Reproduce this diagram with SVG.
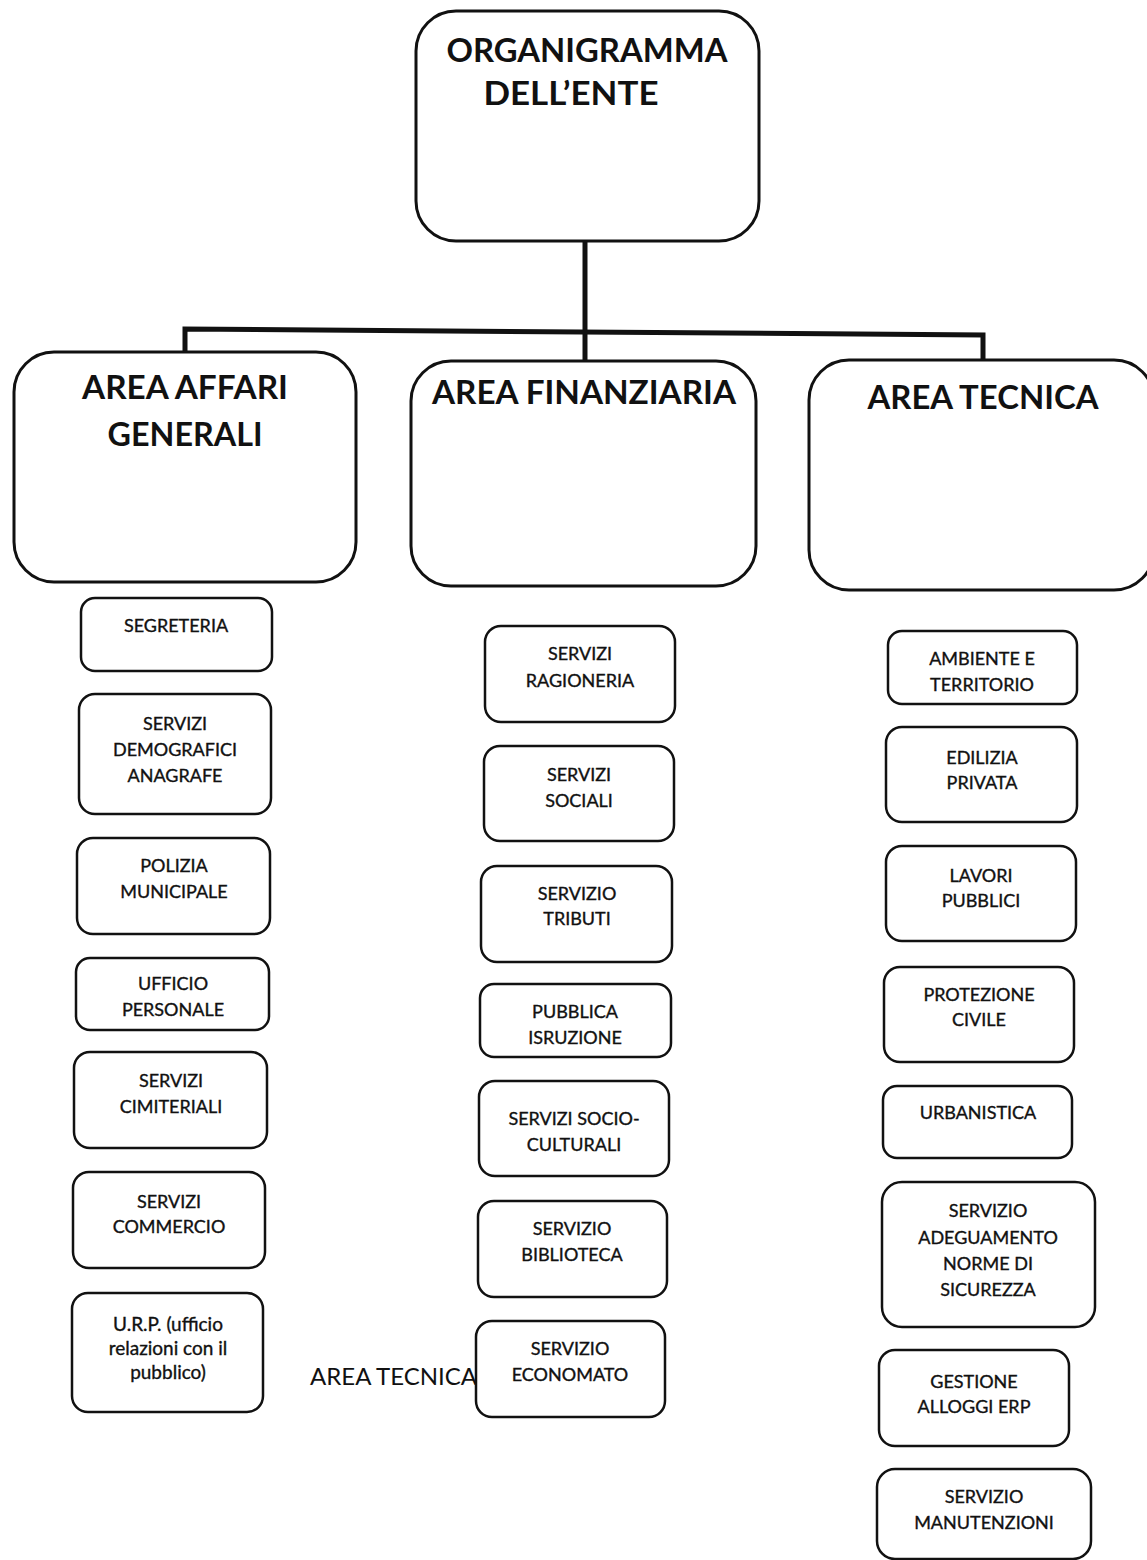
<svg xmlns="http://www.w3.org/2000/svg" width="1147" height="1560" viewBox="0 0 1147 1560">
<style>
.big{fill:#fff;stroke:#111;stroke-width:3}
.box{fill:#fff;stroke:#111;stroke-width:2.5}
.t{font-family:Lato,"Open Sans","Liberation Sans",sans-serif;text-anchor:middle;fill:#111}
.h{font-size:32px;font-weight:bold}
.s{font-size:18px;stroke:#111;stroke-width:0.35}
.u{font-size:19px}
.plain{font-family:Lato,"Open Sans","Liberation Sans",sans-serif;font-size:24px;fill:#111}
.conn{fill:none;stroke:#111;stroke-width:5}
</style>
<rect width="1147" height="1560" fill="#fff"/>
<g id="connectors">
<path class="conn" d="M585 241 V362"/>
<path class="conn" d="M185 353 V329 L983 335 V361"/>
</g>
<g id="ente">
<rect class="big" x="416" y="11" width="343" height="230" rx="40"/>
<text class="t h" x="587" y="62" textLength="281" lengthAdjust="spacingAndGlyphs">ORGANIGRAMMA</text>
<text class="t h" x="571" y="105" textLength="175" lengthAdjust="spacingAndGlyphs">DELL’ENTE</text>
</g>
<g id="area-affari-generali">
<rect class="big" x="14" y="352" width="342" height="230" rx="40"/>
<text class="t h" x="185" y="399" textLength="206" lengthAdjust="spacingAndGlyphs">AREA AFFARI</text>
<text class="t h" x="185" y="446" textLength="155" lengthAdjust="spacingAndGlyphs">GENERALI</text>
</g>
<g id="area-finanziaria">
<rect class="big" x="411" y="361" width="345" height="225" rx="40"/>
<text class="t h" x="584" y="404" textLength="304" lengthAdjust="spacingAndGlyphs">AREA FINANZIARIA</text>
</g>
<g id="area-tecnica">
<rect class="big" x="809" y="360" width="345" height="230" rx="40"/>
<text class="t h" x="983" y="409" textLength="231" lengthAdjust="spacingAndGlyphs">AREA TECNICA</text>
</g>
<text class="plain" x="310" y="1385">AREA TECNICA</text>

<g id="segreteria"><rect class="box" x="81" y="598" width="191" height="73" rx="14"/><text class="t s" x="176" y="632">SEGRETERIA</text></g>
<g id="servizi-demografici"><rect class="box" x="79" y="694" width="192" height="120" rx="16"/><text class="t s" x="175" y="730">SERVIZI</text><text class="t s" x="175" y="756">DEMOGRAFICI</text><text class="t s" x="175" y="782">ANAGRAFE</text></g>
<g id="polizia-municipale"><rect class="box" x="77" y="838" width="193" height="96" rx="16"/><text class="t s" x="174" y="872">POLIZIA</text><text class="t s" x="174" y="898">MUNICIPALE</text></g>
<g id="ufficio-personale"><rect class="box" x="76" y="958" width="193" height="72" rx="14"/><text class="t s" x="173" y="990">UFFICIO</text><text class="t s" x="173" y="1016">PERSONALE</text></g>
<g id="servizi-cimiteriali"><rect class="box" x="74" y="1052" width="193" height="96" rx="16"/><text class="t s" x="171" y="1087">SERVIZI</text><text class="t s" x="171" y="1113">CIMITERIALI</text></g>
<g id="servizi-commercio"><rect class="box" x="73" y="1172" width="192" height="96" rx="16"/><text class="t s" x="169" y="1208">SERVIZI</text><text class="t s" x="169" y="1233">COMMERCIO</text></g>
<g id="urp"><rect class="box" x="72" y="1293" width="191" height="119" rx="16"/><text class="t s u" x="168" y="1331">U.R.P. (ufficio</text><text class="t s u" x="168" y="1355">relazioni con il</text><text class="t s u" x="168" y="1379">pubblico)</text></g>

<g id="servizi-ragioneria"><rect class="box" x="485" y="626" width="190" height="96" rx="16"/><text class="t s" x="580" y="660">SERVIZI</text><text class="t s" x="580" y="687">RAGIONERIA</text></g>
<g id="servizi-sociali"><rect class="box" x="484" y="746" width="190" height="95" rx="16"/><text class="t s" x="579" y="781">SERVIZI</text><text class="t s" x="579" y="807">SOCIALI</text></g>
<g id="servizio-tributi"><rect class="box" x="481" y="866" width="191" height="96" rx="16"/><text class="t s" x="577" y="900">SERVIZIO</text><text class="t s" x="577" y="925">TRIBUTI</text></g>
<g id="pubblica-istruzione"><rect class="box" x="480" y="984" width="191" height="73" rx="14"/><text class="t s" x="575" y="1018">PUBBLICA</text><text class="t s" x="575" y="1044">ISRUZIONE</text></g>
<g id="servizi-socio-culturali"><rect class="box" x="479" y="1081" width="190" height="95" rx="16"/><text class="t s" x="574" y="1125">SERVIZI SOCIO-</text><text class="t s" x="574" y="1151">CULTURALI</text></g>
<g id="servizio-biblioteca"><rect class="box" x="478" y="1201" width="189" height="96" rx="16"/><text class="t s" x="572" y="1235">SERVIZIO</text><text class="t s" x="572" y="1261">BIBLIOTECA</text></g>
<g id="servizio-economato"><rect class="box" x="476" y="1321" width="189" height="96" rx="16"/><text class="t s" x="570" y="1355">SERVIZIO</text><text class="t s" x="570" y="1381">ECONOMATO</text></g>

<g id="ambiente-territorio"><rect class="box" x="888" y="631" width="189" height="73" rx="14"/><text class="t s" x="982" y="665">AMBIENTE E</text><text class="t s" x="982" y="691">TERRITORIO</text></g>
<g id="edilizia-privata"><rect class="box" x="886" y="727" width="191" height="95" rx="16"/><text class="t s" x="982" y="764">EDILIZIA</text><text class="t s" x="982" y="789">PRIVATA</text></g>
<g id="lavori-pubblici"><rect class="box" x="886" y="846" width="190" height="95" rx="16"/><text class="t s" x="981" y="882">LAVORI</text><text class="t s" x="981" y="907">PUBBLICI</text></g>
<g id="protezione-civile"><rect class="box" x="884" y="967" width="190" height="95" rx="16"/><text class="t s" x="979" y="1001">PROTEZIONE</text><text class="t s" x="979" y="1026">CIVILE</text></g>
<g id="urbanistica"><rect class="box" x="883" y="1086" width="189" height="72" rx="14"/><text class="t s" x="978" y="1119">URBANISTICA</text></g>
<g id="servizio-adeguamento"><rect class="box" x="882" y="1182" width="213" height="145" rx="20"/><text class="t s" x="988" y="1217">SERVIZIO</text><text class="t s" x="988" y="1244">ADEGUAMENTO</text><text class="t s" x="988" y="1270">NORME DI</text><text class="t s" x="988" y="1296">SICUREZZA</text></g>
<g id="gestione-alloggi"><rect class="box" x="879" y="1350" width="190" height="96" rx="16"/><text class="t s" x="974" y="1388">GESTIONE</text><text class="t s" x="974" y="1413">ALLOGGI  ERP</text></g>
<g id="servizio-manutenzioni"><rect class="box" x="877" y="1469" width="214" height="90" rx="18"/><text class="t s" x="984" y="1503">SERVIZIO</text><text class="t s" x="984" y="1529">MANUTENZIONI</text></g>
</svg>
